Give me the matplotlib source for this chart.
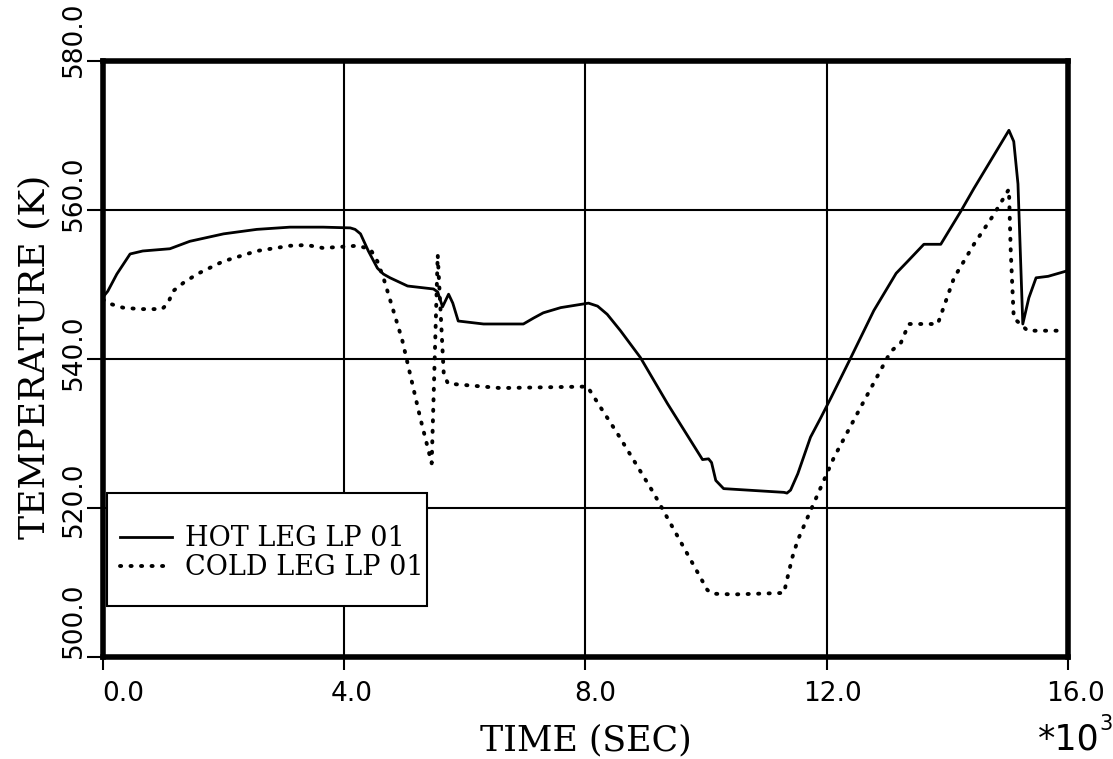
import matplotlib
matplotlib.use("Agg")
import matplotlib.pyplot as plt
from matplotlib.patches import Rectangle
from matplotlib.transforms import ScaledTranslation

# time in units of 10^3 s, temperature in K
hot_t = [0.0, 0.08, 0.23, 0.45, 0.66, 1.11, 1.44, 2.0, 2.55, 3.1, 3.65, 4.1,
         4.18, 4.27, 4.4, 4.55, 4.65, 4.76, 5.05, 5.48, 5.55, 5.63, 5.73, 5.8,
         5.89, 6.31, 6.97, 7.14, 7.30, 7.59, 8.05, 8.2, 8.36, 8.58, 8.91, 9.36,
         9.94, 10.04, 10.09, 10.16, 10.29, 11.29, 11.34, 11.40, 11.52, 11.73,
         11.9, 12.07, 12.4, 12.78, 13.15, 13.34, 13.61, 13.89, 14.22, 14.44,
         15.02, 15.1, 15.17, 15.25, 15.35, 15.47, 15.67, 15.97]
hot_y = [548.3, 549.1, 551.4, 554.1, 554.5, 554.8, 555.8, 556.8, 557.4, 557.7,
         557.7, 557.6, 557.4, 556.8, 554.5, 552.2, 551.4, 550.9, 549.8, 549.4,
         549.0, 547.0, 548.7, 547.5, 545.1, 544.7, 544.7, 545.5, 546.2, 546.9,
         547.5, 547.1, 546.0, 543.8, 540.2, 534.0, 526.5, 526.6, 526.1, 523.7,
         522.6, 522.1, 522.0, 522.4, 524.6, 529.5, 532.1, 534.8, 540.2, 546.5,
         551.5, 553.1, 555.4, 555.4, 559.8, 562.9, 570.7, 569.2, 563.5, 544.7,
         548.2, 550.9, 551.1, 551.8]

cold_t = [0.0, 0.08, 0.33, 0.61, 0.98, 1.08, 1.16, 1.33, 1.56, 1.99, 2.55, 3.1,
          3.38, 3.65, 4.21, 4.43, 4.55, 4.65, 4.96, 5.26, 5.45, 5.55, 5.65,
          5.72, 6.59, 8.03, 8.11, 8.25, 8.53, 9.13, 10.02, 10.1, 10.46, 11.29,
          11.35, 11.43, 11.52, 11.68, 12.12, 12.56, 13.06, 13.23, 13.36, 13.84,
          14.11, 14.44, 14.77, 15.02, 15.05, 15.1, 15.33, 15.83]
cold_y = [548.0, 547.5, 546.9, 546.7, 546.7, 547.5, 549.1, 550.2, 551.4, 553.1,
          554.5, 555.2, 555.3, 554.9, 555.2, 554.8, 553.1, 550.9, 542.6, 532.1,
          526.0, 554.0, 538.0, 536.7, 536.1, 536.3, 535.3, 533.5, 530.0, 522.0,
          509.0, 508.5, 508.4, 508.6, 510.7, 513.4, 515.7, 518.7, 526.8, 533.5,
          541.0, 542.2, 544.7, 544.7, 550.9, 555.4, 559.4, 562.8, 554.5, 545.5,
          543.8, 543.8]

x_ticks = [0.0, 4.0, 8.0, 12.0, 16.0]
y_ticks = [500.0, 520.0, 540.0, 560.0, 580.0]

TICK_FONT = "DejaVu Sans"
LABEL_FONT = "DejaVu Serif"

fig = plt.figure(figsize=(11.13, 7.59), dpi=100)
ax = fig.add_axes([0.0925, 0.1344, 0.8671, 0.7852])

hot, = ax.plot(hot_t, hot_y, color="black", lw=2.0, label="HOT LEG LP 01")
cold, = ax.plot(cold_t, cold_y, color="black", lw=2.8, ls=(0, (0.3, 2.4)),
                dash_capstyle="round", label="COLD LEG LP 01")

ax.set_xlim(0, 16)
ax.set_ylim(500, 580)
ax.set_xticks(x_ticks)
ax.set_yticks(y_ticks)
ax.set_xticklabels([f"{v:.1f}" for v in x_ticks], family=TICK_FONT, fontsize=19)
ax.set_yticklabels([f"{v:.1f}" for v in y_ticks], family=TICK_FONT, fontsize=19,
                   rotation=90, va="center")
ax.tick_params(direction="out", width=1.5, color="black")
ax.tick_params(axis="x", length=9.5, pad=8)
ax.tick_params(axis="y", length=11.5, pad=0)
ax.grid(True, color="black", lw=1.5)
for s in ax.spines.values():
    s.set_linewidth(4)

# the original plotter nudged its tick labels off the ticks (pixels)
for lab, dx in zip(ax.get_xticklabels(), [20, 7, 10, 6, 7]):
    lab.set_transform(lab.get_transform() + ScaledTranslation(dx / 100, 0, fig.dpi_scale_trans))
for lab, dy in zip(ax.get_yticklabels(), [37, 9, 7, 17, 22]):
    lab.set_transform(lab.get_transform() + ScaledTranslation(0, dy / 100, fig.dpi_scale_trans))

ax.set_xlabel("TIME (SEC)", family=LABEL_FONT, fontsize=25)
ax.xaxis.set_label_coords(0.5005, -0.112)
ax.set_ylabel("TEMPERATURE (K)", family=LABEL_FONT, fontsize=26)
ax.yaxis.set_label_coords(-0.053, 0.503)

fig.text(0.9326, 1 - 750 / 759, "*10", fontsize=25, family="DejaVu Sans",
         ha="left", va="baseline")
fig.text(0.9875, 1 - 730 / 759, "3", fontsize=15, family="DejaVu Sans",
         ha="left", va="baseline")

# legend box drawn separately so its size matches the original
ax.add_patch(Rectangle((0.004, 0.0856), 0.332, 0.19, transform=ax.transAxes,
                       facecolor="white", edgecolor="black", lw=1.5, zorder=4))
leg = ax.legend(handles=[hot, cold], loc="center left", bbox_to_anchor=(0.004, 0.174),
                frameon=False, borderpad=0, labelspacing=0.08, handlelength=1.9,
                handletextpad=0.5, prop={"family": LABEL_FONT, "size": 19.5})
leg.set_zorder(5)

fig.savefig("out.png", dpi=100)
